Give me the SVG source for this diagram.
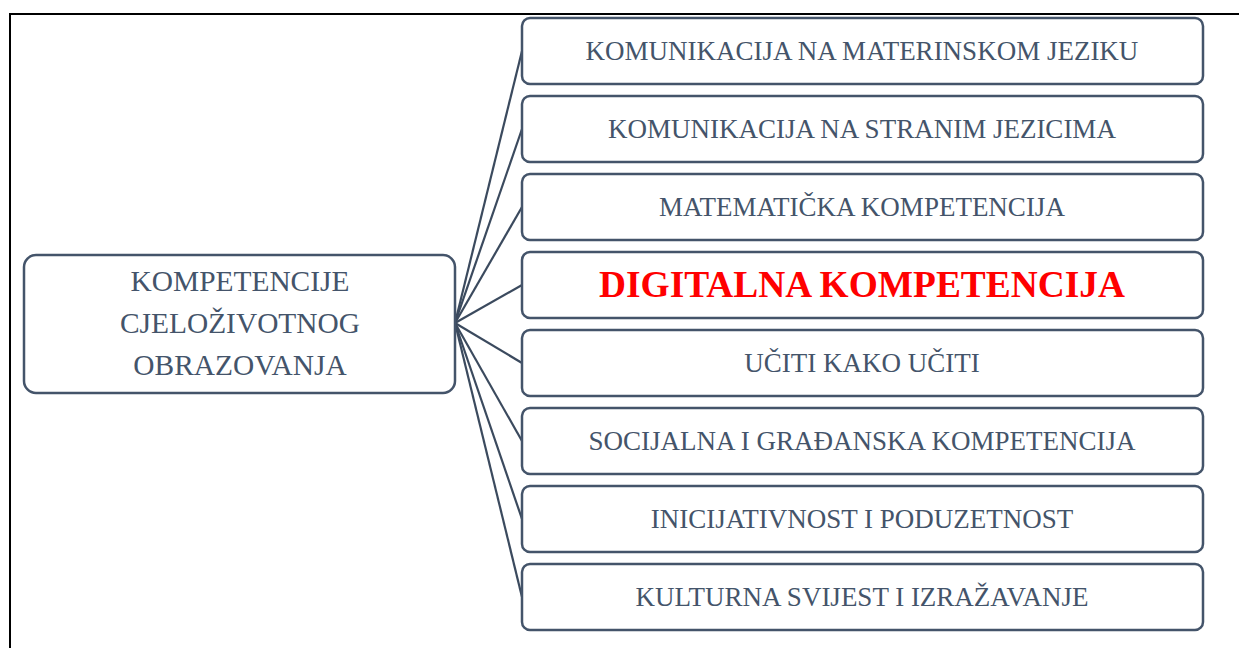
<svg xmlns="http://www.w3.org/2000/svg" width="1239" height="648" viewBox="0 0 1239 648">
<style>
.box{fill:#fff;stroke:#44546a;stroke-width:2.5}
.lbl{font-family:"Liberation Serif","Times New Roman",serif;font-size:27px;fill:#44546a;text-anchor:middle}
.root{font-family:"Liberation Serif","Times New Roman",serif;font-size:29.4px;fill:#44546a;text-anchor:middle}
.hl{font-family:"Liberation Serif","Times New Roman",serif;font-size:37.4px;font-weight:bold;fill:#ff0000;text-anchor:middle}
.con{stroke:#3b4a5e;stroke-width:2.2;fill:none}
</style>
<rect width="1239" height="648" fill="#fff"/>
<path d="M10,648 V14 H1239" fill="none" stroke="#000" stroke-width="2"/>
<g id="connectors">
<line class="con" x1="455" y1="323" x2="522" y2="51"/>
<line class="con" x1="455" y1="323" x2="522" y2="129"/>
<line class="con" x1="455" y1="323" x2="522" y2="207"/>
<line class="con" x1="455" y1="323" x2="522" y2="285"/>
<line class="con" x1="455" y1="323" x2="522" y2="363"/>
<line class="con" x1="455" y1="323" x2="522" y2="441"/>
<line class="con" x1="455" y1="323" x2="522" y2="519"/>
<line class="con" x1="455" y1="323" x2="522" y2="597"/>
</g>
<g id="root">
<rect class="box" x="24" y="255" width="431" height="138" rx="12"/>
<text class="root" x="240" y="291">KOMPETENCIJE</text>
<text class="root" x="240" y="333">CJELOŽIVOTNOG</text>
<text class="root" x="240" y="375">OBRAZOVANJA</text>
</g>
<g id="n1"><rect class="box" x="522" y="18" width="681" height="66" rx="8"/><text class="lbl" x="862" y="60">KOMUNIKACIJA NA MATERINSKOM JEZIKU</text></g>
<g id="n2"><rect class="box" x="522" y="96" width="681" height="66" rx="8"/><text class="lbl" x="862" y="138">KOMUNIKACIJA NA STRANIM JEZICIMA</text></g>
<g id="n3"><rect class="box" x="522" y="174" width="681" height="66" rx="8"/><text class="lbl" x="862" y="216">MATEMATIČKA KOMPETENCIJA</text></g>
<g id="n4"><rect class="box" x="522" y="252" width="681" height="66" rx="8"/><text class="hl" x="862" y="297">DIGITALNA KOMPETENCIJA</text></g>
<g id="n5"><rect class="box" x="522" y="330" width="681" height="66" rx="8"/><text class="lbl" x="862" y="372">UČITI KAKO UČITI</text></g>
<g id="n6"><rect class="box" x="522" y="408" width="681" height="66" rx="8"/><text class="lbl" x="862" y="450">SOCIJALNA I GRAĐANSKA KOMPETENCIJA</text></g>
<g id="n7"><rect class="box" x="522" y="486" width="681" height="66" rx="8"/><text class="lbl" x="862" y="528">INICIJATIVNOST I PODUZETNOST</text></g>
<g id="n8"><rect class="box" x="522" y="564" width="681" height="66" rx="8"/><text class="lbl" x="862" y="606">KULTURNA SVIJEST I IZRAŽAVANJE</text></g>
</svg>
